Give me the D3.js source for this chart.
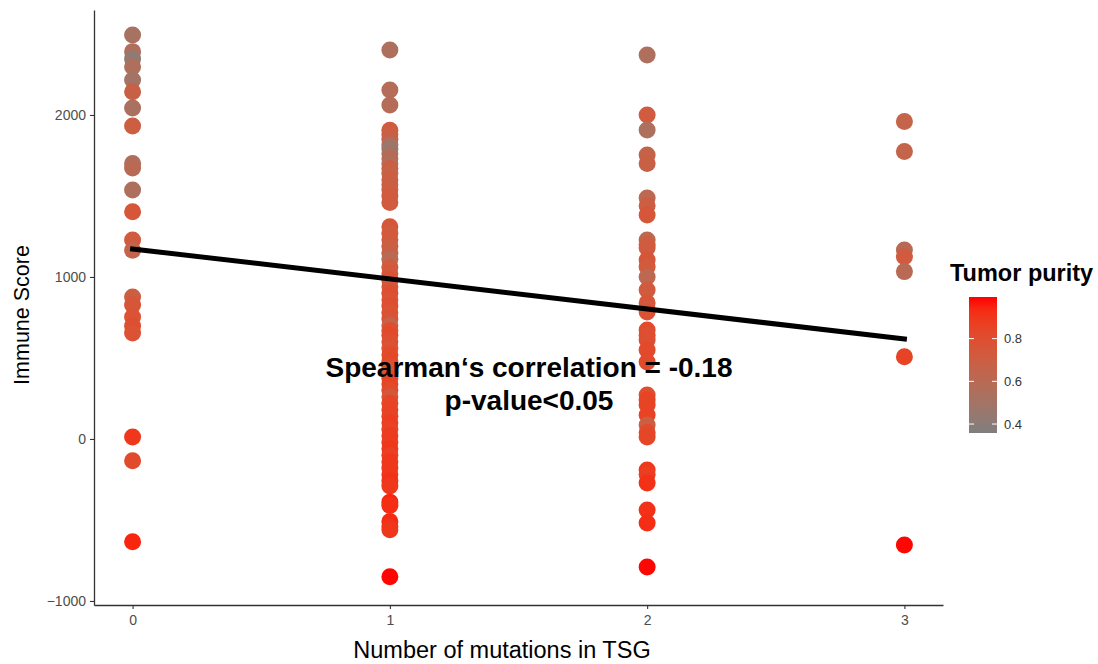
<!DOCTYPE html>
<html>
<head>
<meta charset="utf-8">
<script src="https://cdn.jsdelivr.net/npm/d3@7"></script>
<style>
  body { margin: 0; background: #fff; }
  text { font-family: "Liberation Sans", Arial, sans-serif; }
</style>
</head>
<body>
<svg id="chart" width="1098" height="664"></svg>
<script>
// Immune score vs. number of TSG mutations, coloured by tumour purity
const mutationGroups = [0, 1, 2, 3];
const xTickLabels = ["0", "1", "2", "3"];
const yTickValues = [-1000, 0, 1000, 2000];
const purityTicks = [0.4, 0.6, 0.8];

const scoreG0 = [2494, 2391, 2345, 2298, 2216, 2144, 2043, 1932, 1700, 1673, 1537, 1403, 1228, 1165,
  877, 827, 753, 698, 654, 12, -134, -634];
const purityG0 = [0.52, 0.55, 0.42, 0.55, 0.50, 0.68, 0.53, 0.70, 0.55, 0.60, 0.55, 0.75, 0.72, 0.65,
  0.70, 0.75, 0.78, 0.80, 0.78, 0.90, 0.82, 0.95];

const scoreG1 = [2401, 2154, 2062, 1905, 1880, 1850, 1815, 1790, 1760, 1730, 1700, 1670, 1640, 1600,
  1570, 1540, 1500, 1460, 1310, 1270, 1230, 1190, 1150, 1110, 1060, 1020, 980, 940, 900, 860, 820,
  780, 740, 700, 670, 640, 600, 560, 520, 480, 445, 410, 375, 340, 300, 260, 220, 180, 140, 100, 60,
  20, -20, -60, -100, -140, -180, -220, -260, -290, -390, -410, -510, -540, -560, -850];
const purityG1 = [0.55, 0.58, 0.58, 0.72, 0.70, 0.68, 0.55, 0.45, 0.50, 0.60, 0.55, 0.70, 0.66, 0.70,
  0.68, 0.70, 0.72, 0.72, 0.75, 0.72, 0.73, 0.70, 0.68, 0.60, 0.72, 0.74, 0.78, 0.75, 0.80, 0.78, 0.80,
  0.78, 0.77, 0.65, 0.80, 0.82, 0.80, 0.78, 0.82, 0.83, 0.80, 0.75, 0.83, 0.85, 0.82, 0.75, 0.84, 0.86,
  0.85, 0.88, 0.86, 0.88, 0.88, 0.90, 0.87, 0.90, 0.90, 0.90, 0.92, 0.90, 0.95, 0.93, 0.94, 0.92, 0.90,
  0.99];

const scoreG2 = [2370, 2000, 1907, 1753, 1700, 1487, 1440, 1383, 1228, 1200, 1179, 1105, 1062, 1000,
  920, 840, 800, 784, 673, 640, 611, 549, 475, 272, 240, 210, 148, 86, 40, 12, -191, -220, -272, -438,
  -519, -790];
const purityG2 = [0.55, 0.72, 0.55, 0.66, 0.68, 0.62, 0.70, 0.75, 0.62, 0.70, 0.72, 0.75, 0.73, 0.62,
  0.72, 0.75, 0.72, 0.78, 0.82, 0.80, 0.80, 0.82, 0.82, 0.80, 0.85, 0.85, 0.86, 0.70, 0.82, 0.84, 0.90,
  0.88, 0.92, 0.92, 0.93, 0.99];

const scoreG3 = [1959, 1774, 1167, 1125, 1033, 508, -654];
const purityG3 = [0.65, 0.65, 0.60, 0.72, 0.60, 0.85, 0.99];

// fitted trend line (mutations → immune score)
const fitX = [0, 3];
const fitY = [1173, 617];

const groupScores = [scoreG0, scoreG1, scoreG2, scoreG3];
const groupPurity = [purityG0, purityG1, purityG2, purityG3];
const points = [];
mutationGroups.forEach((g, i) => {
  groupScores[i].forEach((s, j) => points.push({ m: g, score: s, purity: groupPurity[i][j] }));
});

const svg = d3.select("#chart");

const x = d3.scaleLinear().domain([-0.15, 3.15]).range([94, 943]);
const y = d3.scaleLinear().domain([-1025, 2648]).range([605, 10]);
const purityDomain = [0.358, 0.995];
const color = d3.scaleLinear().domain(purityDomain).range(["#7f7f7f", "#ff0000"])
  .interpolate(d3.interpolateLab);

// points
svg.append("g").selectAll("circle").data(points).join("circle")
  .attr("cx", d => x(d.m))
  .attr("cy", d => y(d.score))
  .attr("r", 8.5)
  .attr("fill", d => color(d.purity));

// trend line
svg.append("path")
  .datum(fitX.map((v, i) => [v, fitY[i]]))
  .attr("d", d3.line().x(d => x(d[0])).y(d => y(d[1])))
  .attr("fill", "none")
  .attr("stroke", "#000")
  .attr("stroke-width", 5)
  .attr("stroke-linecap", "square");

// axes
const axisColor = "#333";
const yAxis = svg.append("g").attr("transform", "translate(94,0)")
  .call(d3.axisLeft(y).tickValues(yTickValues).tickFormat(d3.format("d"))
    .tickSize(4).tickSizeOuter(0).tickPadding(4));
const xAxis = svg.append("g").attr("transform", "translate(0,605)")
  .call(d3.axisBottom(x).tickValues(mutationGroups).tickFormat((d, i) => xTickLabels[i])
    .tickSize(4).tickSizeOuter(0).tickPadding(6));
[yAxis, xAxis].forEach(a => {
  a.select(".domain").attr("stroke", axisColor).attr("stroke-width", 1.3);
  a.selectAll(".tick line").attr("stroke", axisColor).attr("stroke-width", 1.1);
  a.selectAll(".tick text").attr("fill", "#4d4d4d").style("font-size", "14px")
    .style("font-family", "'Liberation Sans', Arial, sans-serif");
});

// axis titles
svg.append("text")
  .attr("transform", "translate(29,315) rotate(-90)")
  .attr("text-anchor", "middle")
  .style("font-size", "21.5px")
  .attr("fill", "#000")
  .text("Immune Score");
svg.append("text")
  .attr("x", 502).attr("y", 658)
  .attr("text-anchor", "middle")
  .style("font-size", "23.5px")
  .attr("fill", "#000")
  .text("Number of mutations in TSG");

// annotation
const note = svg.append("g").attr("font-weight", "bold").attr("text-anchor", "middle")
  .style("font-size", "28px").attr("fill", "#000");
note.append("text").attr("x", 529).attr("y", 377).text("Spearman\u2018s correlation = -0.18");
note.append("text").attr("x", 529).attr("y", 410).text("p-value<0.05");

// colour legend
const legendX = 969, legendW = 28;
const ly = d3.scaleLinear().domain(purityDomain).range([433, 297]);
svg.append("text")
  .attr("x", 950).attr("y", 281)
  .attr("font-weight", "bold")
  .style("font-size", "23.5px")
  .attr("fill", "#000")
  .text("Tumor purity");

const grad = svg.append("defs").append("linearGradient")
  .attr("id", "purityGrad").attr("x1", 0).attr("y1", 1).attr("x2", 0).attr("y2", 0);
d3.range(0, 1.0001, 0.1).forEach(t => {
  grad.append("stop").attr("offset", t)
    .attr("stop-color", color(purityDomain[0] + t * (purityDomain[1] - purityDomain[0])));
});
svg.append("rect")
  .attr("x", legendX).attr("y", ly(purityDomain[1]))
  .attr("width", legendW).attr("height", ly(purityDomain[0]) - ly(purityDomain[1]))
  .attr("fill", "url(#purityGrad)");

const lt = svg.append("g");
purityTicks.forEach(v => {
  lt.append("line").attr("x1", legendX).attr("x2", legendX + 5)
    .attr("y1", ly(v)).attr("y2", ly(v)).attr("stroke", "#fff").attr("stroke-width", 1);
  lt.append("line").attr("x1", legendX + legendW - 5).attr("x2", legendX + legendW)
    .attr("y1", ly(v)).attr("y2", ly(v)).attr("stroke", "#fff").attr("stroke-width", 1);
  lt.append("text").attr("x", legendX + legendW + 7).attr("y", ly(v))
    .attr("dy", "0.35em").style("font-size", "13px").attr("fill", "#333")
    .text(v.toFixed(1));
});
</script>
</body>
</html>
